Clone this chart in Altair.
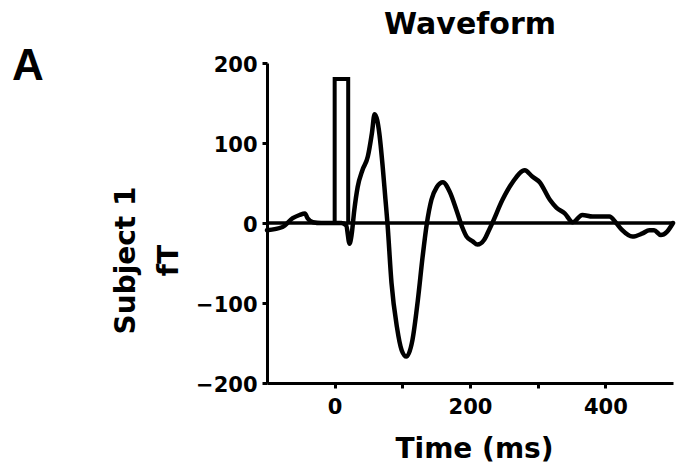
import altair as alt
import pandas as pd

# Waveform (time in ms, field in fT)
wave_t = [-100, -77, -62, -52, -44, -40, -32, -20, 0, 10, 17, 22, 25, 29, 34, 41, 49, 55, 59,
          63, 66, 71, 75, 78, 84, 92, 99, 106, 115, 123, 130, 136, 143, 151, 160, 170, 180, 188,
          195, 204, 211, 221, 228, 233, 248, 263, 281, 292, 303, 318, 328, 340, 352, 366,
          381, 406, 416, 425, 440, 455, 465, 472, 482, 491, 500]
wave_v = [-9, -5, 6, 10, 12, 6, 1, 0, 0, 0, -3, -26, -15, 16, 45, 66, 83, 112, 136,
          128, 112, 70, 30, 0, -75, -130, -159, -167, -146, -96, -42, -2, 29, 45, 51, 39, 16, -4,
          -17, -23, -27, -21, -9, 0, 29, 51, 66, 58, 51, 29, 19, 12, 1, 10,
          8, 8, 0, -9, -17, -13, -9, -9, -15, -11, 0]

# Stimulus marker (rectangular pulse)
stim_t = [0, 0, 20, 20]
stim_v = [0, 180, 180, 0]

y_ticks = [-200, -100, 0, 100, 200]
x_ticks = [0, 100, 200, 300, 400]

FONT = "DejaVu Sans"

wave_df = pd.DataFrame({"t": wave_t, "v": wave_v, "i": range(len(wave_t))})
stim_df = pd.DataFrame({"t": stim_t, "v": stim_v, "i": range(len(stim_t))})
label_df = pd.DataFrame({"label": ["A"]})

x_scale = alt.Scale(domain=[-100, 500], nice=False, zero=False)
y_scale = alt.Scale(domain=[-200, 200], nice=False, zero=False)

x_axis = alt.Axis(values=x_ticks, title="Time (ms)",
                  labelExpr="datum.value % 200 == 0 ? datum.label : ''",
                  labelPadding=8, titleX=207, titleY=74, titleBaseline="alphabetic",
                  titleAnchor="middle")
y_axis = alt.Axis(values=y_ticks, title=["Subject 1", "fT"], format="d",
                  labelPadding=5, labelOffset=2,
                  titleAngle=270, titleX=-133, titleY=197, titleAlign="center",
                  titleBaseline="alphabetic", titleLineHeight=43)

zero = alt.Chart(label_df).mark_rule(color="black", strokeWidth=3.5).encode(
    y=alt.Y(datum=0, scale=y_scale, axis=y_axis)
)

stim = alt.Chart(stim_df).mark_line(color="black", strokeWidth=4, strokeJoin="miter").encode(
    x=alt.X("t:Q", scale=x_scale, axis=x_axis),
    y=alt.Y("v:Q", scale=y_scale, axis=y_axis),
    order="i:Q",
)

wave = alt.Chart(wave_df).mark_line(color="black", strokeWidth=4.5, interpolate="monotone",
                                    strokeJoin="round", strokeCap="round").encode(
    x=alt.X("t:Q", scale=x_scale, axis=x_axis),
    y=alt.Y("v:Q", scale=y_scale, axis=y_axis),
    order="i:Q",
)

letter = alt.Chart(label_df).mark_text(font="Liberation Sans", fontSize=44, fontWeight="bold",
                                        align="left", baseline="alphabetic",
                                        color="black").encode(
    text="label:N", x=alt.value(-255), y=alt.value(17)
)

chart = alt.layer(zero, stim, wave, letter).properties(
    width=406, height=320,
    title=alt.TitleParams("Waveform", font=FONT, fontSize=30, fontWeight="bold",
                          color="black", anchor="middle", offset=5),
    autosize=alt.AutoSizeParams(type="none"),
    padding={"left": 267, "top": 63, "right": 3, "bottom": 89},
).configure_axis(
    domainColor="black", domainWidth=3, tickColor="black", tickWidth=3, tickSize=5,
    labelFont=FONT, labelFontSize=21, labelFontWeight="bold", labelColor="black",
    titleFont=FONT, titleFontSize=28, titleFontWeight="bold", titleColor="black",
    grid=False,
).configure_view(stroke=None)

chart.save("out.html", embed_options={"renderer": "svg", "actions": False})
